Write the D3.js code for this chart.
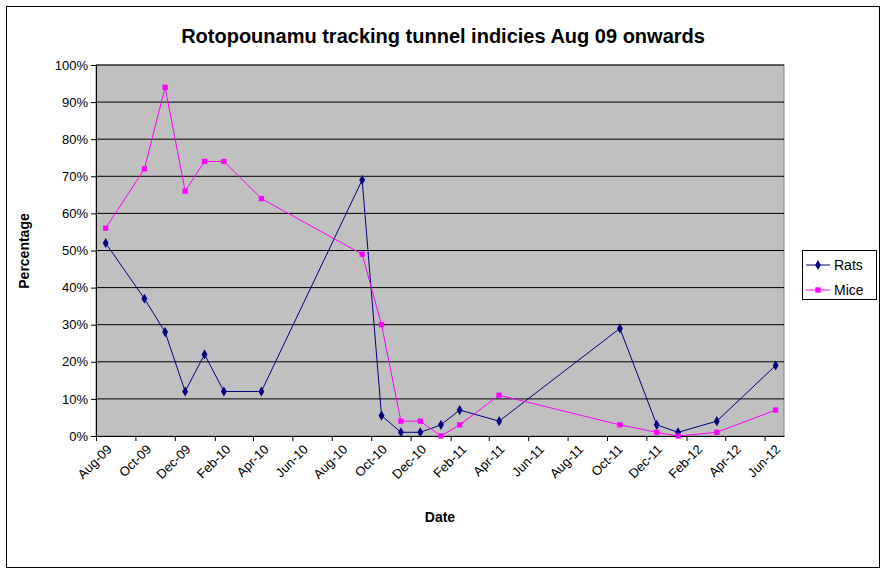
<!DOCTYPE html>
<html><head><meta charset="utf-8">
<script src="https://d3js.org/d3.v7.min.js"></script>
<style>body{margin:0;background:#fff;font-family:"Liberation Sans",Arial,sans-serif}</style>
</head><body><svg id="c" width="886" height="573"></svg>
<script>
const dates=["2009-08-16","2009-10-15","2009-11-16","2009-12-17","2010-01-16","2010-02-15","2010-04-14","2010-09-17","2010-10-17","2010-11-16","2010-12-16","2011-01-17","2011-02-15","2011-04-17","2011-10-21","2011-12-17","2012-01-19","2012-03-19","2012-06-18"];
const rats=[52,37,28,12,22,12,12,69,5.5,1,1,3,7,4,29,3,1,4,19];
const mice=[56,72,94,66,74,74,64,49,30,4,4,0,3,11,3,1,0,1,7];
const yTicks=[0,10,20,30,40,50,60,70,80,90,100];
const series=[{name:"Rats",values:rats,color:"#000080",shape:"diamond"},{name:"Mice",values:mice,color:"#ff00ff",shape:"square"}];
const svg=d3.select("#c");
const pd=d3.timeParse("%Y-%m-%d");
svg.append("rect").attr("x",6.5).attr("y",6.5).attr("width",873).attr("height",561).attr("fill","#fff").attr("stroke","#000");
const L=96,R=784,T=65,B=436;
const x=d3.scaleTime().domain([new Date(2009,7,1),new Date(2012,6,1)]).range([L,R]);
const y=d3.scaleLinear().domain([0,100]).range([B,T]);
svg.append("rect").attr("x",L).attr("y",T).attr("width",R-L).attr("height",B-T).attr("fill","#c0c0c0").attr("stroke","#808080");
svg.append("g").selectAll("line").data(yTicks.slice(1)).join("line").attr("x1",L).attr("x2",R).attr("y1",d=>y(d)).attr("y2",d=>y(d)).attr("stroke","#000");
const ya=svg.append("g").attr("transform",`translate(${L},0)`).call(d3.axisLeft(y).tickValues(yTicks).tickFormat(d=>d+"%").tickSize(5).tickSizeOuter(0));
ya.selectAll("text").attr("font-size",13).attr("font-family","Liberation Sans,Arial").attr("fill","#000");
const xt=d3.timeMonth.range(new Date(2009,7,1),new Date(2012,7,1),2);
const xa=svg.append("g").attr("transform",`translate(0,${B})`).call(d3.axisBottom(x).tickValues(xt).tickFormat(d3.timeFormat("%b-%y")).tickSize(5).tickSizeOuter(0));
xa.selectAll("text").attr("font-size",13).attr("font-family","Liberation Sans,Arial").attr("fill","#000").attr("text-anchor","end").attr("transform","translate(4,2) rotate(-45)").attr("dy","0.7em");
svg.selectAll(".domain,.tick line").attr("stroke","#000");
const line=d3.line().x((d,i)=>x(pd(dates[i]))).y(d=>y(d));
series.forEach(s=>{
  svg.append("path").attr("d",line(s.values)).attr("fill","none").attr("stroke",s.color).attr("stroke-width",1);
  const sym=d3.symbol().type(s.shape==="diamond"?d3.symbolDiamond:d3.symbolSquare).size(s.shape==="diamond"?30:28);
  svg.append("g").selectAll("path").data(s.values).join("path").attr("d",sym).attr("fill",s.color)
    .attr("transform",(d,i)=>`translate(${x(pd(dates[i]))},${y(d)})`);
});
svg.append("text").attr("x",443).attr("y",43).attr("text-anchor","middle").attr("font-size",20).attr("font-weight","bold").text("Rotopounamu tracking tunnel indicies Aug 09 onwards");
svg.append("text").attr("x",440).attr("y",522).attr("text-anchor","middle").attr("font-size",14).attr("font-weight","bold").text("Date");
svg.append("text").attr("transform","translate(29,251) rotate(-90)").attr("text-anchor","middle").attr("font-size",14).attr("font-weight","bold").text("Percentage");
const lg=svg.append("g");
lg.append("rect").attr("x",802.5).attr("y",250.5).attr("width",74).attr("height",49).attr("fill","#fff").attr("stroke","#000");
series.forEach((s,i)=>{
  const yy=265+i*25;
  lg.append("line").attr("x1",806).attr("x2",830).attr("y1",yy).attr("y2",yy).attr("stroke",s.color);
  lg.append("path").attr("d",d3.symbol().type(s.shape==="diamond"?d3.symbolDiamond:d3.symbolSquare).size(28)()).attr("fill",s.color).attr("transform",`translate(818,${yy})`);
  lg.append("text").attr("x",834).attr("y",yy+5).attr("font-size",14).text(s.name);
});
</script></body></html>
